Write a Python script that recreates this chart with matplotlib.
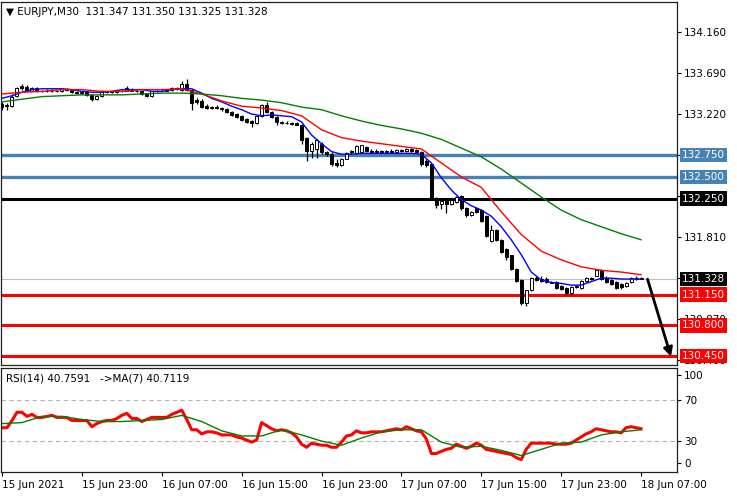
import numpy as np
import matplotlib
matplotlib.use("Agg")
import matplotlib.pyplot as plt
from matplotlib import transforms

# EURJPY M30 candles, 15 Jun 15:00 .. 18 Jun 07:00
opens = [133.33, 133.32, 133.31, 133.43, 133.54, 133.53, 133.49, 133.52, 133.48, 133.49,
         133.48, 133.49, 133.48, 133.51, 133.50, 133.47, 133.46, 133.47, 133.44, 133.39,
         133.43, 133.47, 133.48, 133.47, 133.48, 133.49, 133.51, 133.49, 133.48, 133.45,
         133.43, 133.48, 133.49, 133.49, 133.50, 133.52, 133.50, 133.57, 133.50, 133.38,
         133.37, 133.31, 133.30, 133.30, 133.29, 133.28, 133.24, 133.22, 133.20, 133.16,
         133.14, 133.12, 133.20, 133.32, 133.24, 133.19, 133.13, 133.12, 133.12, 133.12,
         133.10, 132.95, 132.80, 132.82, 132.88, 132.78, 132.76, 132.66, 132.64, 132.71,
         132.80, 132.77, 132.78, 132.84, 132.80, 132.79, 132.80, 132.78, 132.80, 132.79,
         132.81, 132.80, 132.82, 132.81, 132.79, 132.68, 132.65, 132.26, 132.19, 132.23,
         132.19, 132.21, 132.28, 132.14, 132.06, 132.14, 132.12, 132.05, 131.76, 131.89,
         131.78, 131.67, 131.60, 131.45, 131.32, 131.05, 131.20, 131.34, 131.33, 131.33,
         131.30, 131.30, 131.25, 131.23, 131.17, 131.24, 131.23, 131.31, 131.34, 131.37,
         131.43, 131.34, 131.32, 131.30, 131.27, 131.25, 131.30, 131.33, 131.347]
highs = [133.36, 133.35, 133.45, 133.53, 133.57, 133.55, 133.53, 133.53, 133.50, 133.51,
         133.51, 133.50, 133.52, 133.52, 133.51, 133.49, 133.48, 133.48, 133.45, 133.44,
         133.50, 133.49, 133.49, 133.49, 133.50, 133.54, 133.52, 133.50, 133.49, 133.46,
         133.49, 133.50, 133.51, 133.51, 133.53, 133.53, 133.60, 133.62, 133.51, 133.40,
         133.39, 133.33, 133.31, 133.32, 133.30, 133.29, 133.25, 133.23, 133.21, 133.17,
         133.15, 133.21, 133.34, 133.36, 133.25, 133.20, 133.14, 133.14, 133.13, 133.13,
         133.11, 132.96, 132.90, 132.93, 132.90, 132.80, 132.78, 132.70, 132.72, 132.78,
         132.81, 132.86, 132.87, 132.85, 132.82, 132.82, 132.81, 132.81, 132.82, 132.82,
         132.82, 132.83, 132.83, 132.82, 132.80, 132.70, 132.66, 132.27, 132.23, 132.24,
         132.25, 132.28, 132.29, 132.15, 132.11, 132.15, 132.13, 132.06, 131.95, 131.90,
         131.79, 131.68, 131.61, 131.46, 131.33, 131.21, 131.35, 131.36, 131.36, 131.35,
         131.31, 131.31, 131.26, 131.24, 131.25, 131.26, 131.32, 131.35, 131.35, 131.44,
         131.44, 131.36, 131.33, 131.31, 131.28, 131.30, 131.35, 131.37, 131.350]
lows = [133.27, 133.27, 133.30, 133.42, 133.50, 133.48, 133.48, 133.47, 133.47, 133.47,
        133.47, 133.47, 133.47, 133.49, 133.46, 133.45, 133.45, 133.43, 133.37, 133.38,
        133.42, 133.46, 133.46, 133.46, 133.47, 133.48, 133.48, 133.47, 133.44, 133.42,
        133.42, 133.47, 133.48, 133.48, 133.49, 133.50, 133.49, 133.49, 133.27, 133.34,
        133.29, 133.28, 133.28, 133.28, 133.26, 133.23, 133.20, 133.18, 133.14, 133.12,
        133.07, 133.11, 133.19, 133.23, 133.18, 133.10, 133.11, 133.11, 133.10, 133.09,
        132.88, 132.68, 132.72, 132.72, 132.76, 132.74, 132.62, 132.61, 132.63, 132.70,
        132.76, 132.76, 132.77, 132.79, 132.78, 132.77, 132.77, 132.77, 132.78, 132.78,
        132.79, 132.79, 132.79, 132.77, 132.63, 132.61, 132.25, 132.14, 132.13, 132.09,
        132.18, 132.20, 132.12, 132.04, 132.05, 132.09, 131.98, 131.81, 131.75, 131.77,
        131.63, 131.55, 131.43, 131.30, 131.03, 131.02, 131.19, 131.31, 131.30, 131.29,
        131.28, 131.22, 131.21, 131.15, 131.15, 131.23, 131.22, 131.30, 131.32, 131.36,
        131.32, 131.29, 131.26, 131.22, 131.22, 131.24, 131.29, 131.32, 131.325]
closes = [133.30, 133.31, 133.41, 133.52, 133.52, 133.49, 133.52, 133.48, 133.49, 133.48,
          133.49, 133.48, 133.51, 133.50, 133.47, 133.46, 133.47, 133.44, 133.39, 133.43,
          133.47, 133.48, 133.47, 133.48, 133.49, 133.52, 133.49, 133.48, 133.45, 133.43,
          133.48, 133.49, 133.49, 133.50, 133.52, 133.51, 133.57, 133.50, 133.35, 133.36,
          133.30, 133.29, 133.29, 133.29, 133.28, 133.24, 133.21, 133.19, 133.15, 133.13,
          133.12, 133.20, 133.32, 133.24, 133.19, 133.13, 133.12, 133.12, 133.11, 133.10,
          132.92, 132.80, 132.88, 132.92, 132.78, 132.76, 132.65, 132.64, 132.71, 132.77,
          132.78, 132.85, 132.86, 132.80, 132.79, 132.80, 132.78, 132.80, 132.79, 132.81,
          132.80, 132.82, 132.80, 132.78, 132.65, 132.64, 132.26, 132.18, 132.22, 132.19,
          132.24, 132.27, 132.14, 132.06, 132.10, 132.10, 132.00, 131.82, 131.89, 131.78,
          131.64, 131.58, 131.44, 131.31, 131.05, 131.20, 131.34, 131.32, 131.31, 131.30,
          131.29, 131.23, 131.22, 131.17, 131.24, 131.25, 131.31, 131.34, 131.33, 131.43,
          131.33, 131.30, 131.27, 131.23, 131.24, 131.29, 131.34, 131.34, 131.328]

# moving averages (blue every 2 bars, red/green every 4 bars)
ma_blue = [133.40, 133.43, 133.47, 133.50, 133.51, 133.51, 133.51, 133.50, 133.48, 133.47,
           133.47, 133.48, 133.50, 133.50, 133.50, 133.48, 133.48, 133.50, 133.51, 133.51,
           133.46, 133.40, 133.36, 133.31, 133.27, 133.22, 133.20, 133.21, 133.20, 133.19,
           133.13, 132.98, 132.88, 132.79, 132.76, 132.76, 132.77, 132.77, 132.77, 132.77,
           132.77, 132.77, 132.76, 132.66, 132.49, 132.35, 132.24, 132.17, 132.12, 132.05,
           131.93, 131.78, 131.61, 131.41, 131.32, 131.29, 131.28, 131.26, 131.26, 131.30,
           131.34, 131.34, 131.33, 131.33, 131.33]
ma_red = [133.45, 133.47, 133.48, 133.50, 133.50, 133.48, 133.48, 133.50, 133.50, 133.51,
          133.45, 133.37, 133.31, 133.29, 133.26, 133.20, 133.04, 132.95, 132.91, 132.88,
          132.85, 132.82, 132.66, 132.50, 132.38, 132.10, 131.84, 131.65, 131.55, 131.47,
          131.43, 131.41, 131.38]
ma_green = [133.36, 133.39, 133.42, 133.43, 133.44, 133.44, 133.44, 133.45, 133.46, 133.46,
            133.45, 133.43, 133.40, 133.38, 133.35, 133.30, 133.27, 133.20, 133.14, 133.09,
            133.05, 133.00, 132.93, 132.83, 132.73, 132.59, 132.43, 132.27, 132.12, 132.01,
            131.93, 131.85, 131.78]

rsi = [43, 43, 50, 58, 58, 54, 56, 53, 53, 54, 55, 53, 53, 53, 50, 50, 50, 50, 44, 47,
       49, 50, 50, 52, 55, 57, 52, 52, 49, 51, 53, 53, 53, 53, 56, 58, 60, 51, 41, 41,
       37, 39, 39, 38, 36, 36, 36, 34, 33, 31, 29, 31, 48, 45, 42, 40, 41, 40, 38, 34,
       27, 24, 28, 27, 26, 26, 24, 24, 29, 35, 36, 40, 38, 38, 39, 39, 39, 40, 41, 42,
       41, 44, 42, 40, 39, 32, 18, 18, 20, 22, 23, 27, 25, 23, 25, 28, 26, 22, 21, 20,
       19, 18, 17, 14, 12, 22, 28, 28, 28, 28, 28, 27, 27, 27, 28, 31, 34, 37, 39, 42,
       41, 40, 39, 39, 38, 43, 44, 43, 42]
rsi_ma = [47, 48, 54, 54, 51, 49, 49, 50, 51, 55, 49, 40, 35, 35, 41, 36, 30, 26, 33, 39,
          41, 41, 29, 24, 25, 21, 16, 22, 28, 29, 36, 39, 41]

levels_blue = [132.750, 132.500]
levels_black = [132.250]
levels_red = [131.150, 130.800, 130.450]
last_price = 131.328

price_ticks = [134.160, 133.690, 133.220, 132.750, 132.280, 131.810, 131.340, 130.870, 130.400]
# labels fully covered by the level boxes are left blank
price_labels = ['134.160', '133.690', '133.220', '', '', '131.810', '', '130.870', '130.400']
time_labels = ['15 Jun 2021', '15 Jun 23:00', '16 Jun 07:00', '16 Jun 15:00', '16 Jun 23:00',
               '17 Jun 07:00', '17 Jun 15:00', '17 Jun 23:00', '18 Jun 07:00']

plt.rcParams['font.family'] = ['DejaVu Sans']
FS = 7.5
W, H = 737, 498

fig = plt.figure(figsize=(W / 100, H / 100), dpi=100)
ax = fig.add_axes([1 / W, (H - 365) / H, 676 / W, 363 / H])
ax2 = fig.add_axes([1 / W, (H - 472) / H, 676 / W, 104 / H])

idx = np.arange(len(closes))
o = np.array(opens)
c = np.array(closes)

# horizontal levels
for lv in levels_blue:
    ax.axhline(lv, color='#4682B4', lw=2.4, zorder=2)
for lv in levels_black:
    ax.axhline(lv, color='black', lw=2.2, zorder=2)
for lv in levels_red:
    ax.axhline(lv, color='#FF0000', lw=2.2, zorder=2)
ax.axhline(last_price, color='#C0C0C0', lw=0.8, zorder=1)

# candles
ax.vlines(idx, lows, highs, color='black', lw=0.9, zorder=3)
up = c >= o
ax.bar(idx, np.abs(c - o), bottom=np.minimum(o, c), width=0.6,
       color=np.where(up, 'white', 'black'), edgecolor='black', linewidth=0.7, zorder=3)

ax.plot(idx[::2], ma_blue, color='#0000FF', lw=1.0, zorder=4)
ax.plot(idx[::4], ma_red, color='#FF0000', lw=1.0, zorder=4)
ax.plot(idx[::4], ma_green, color='#008000', lw=1.0, zorder=4)

ax.annotate('', xy=(134.0, 130.44), xytext=(129.3, last_price), annotation_clip=False,
            arrowprops=dict(arrowstyle='-|>', color='black', lw=2.0, mutation_scale=13,
                            shrinkA=0, shrinkB=0), zorder=5)

ax.set_xlim(-0.2, 135.2)
ax.set_ylim(130.345, 134.504)
ax.set_xticks([])
ax.yaxis.tick_right()
ax.set_yticks(price_ticks)
ax.set_yticklabels(price_labels, fontsize=FS)
ax.tick_params(axis='y', direction='out', length=3, pad=2, width=0.8)

tr = transforms.blended_transform_factory(ax.transAxes, ax.transData)
boxes = [(lv, '#4682B4') for lv in levels_blue] + \
        [(lv, 'black') for lv in levels_black] + \
        [(last_price, 'black')] + \
        [(lv, '#FF0000') for lv in levels_red]
for lv, fc in boxes:
    ax.text(1.0075, lv, '%.3f' % lv, transform=tr, ha='left', va='center', fontsize=FS,
            color='white', zorder=10,
            bbox=dict(boxstyle='square,pad=0.22', fc=fc, ec='none'))

ax.text(0.007, 0.985, '\u25BC EURJPY,M30  131.347 131.350 131.325 131.328',
        transform=ax.transAxes, ha='left', va='top', fontsize=FS)

# RSI panel
ax2.axhline(70, color='#B4B4B4', lw=0.8, ls=(0, (4, 3)))
ax2.axhline(30, color='#B4B4B4', lw=0.8, ls=(0, (4, 3)))
ax2.plot(idx, rsi, color='#FF0000', lw=2.2)
ax2.plot(idx[::4], rsi_ma, color='#008000', lw=1.0)
ax2.set_xlim(-0.2, 135.2)
ax2.set_ylim(0, 101)
ax2.yaxis.tick_right()
ax2.set_yticks([94, 70, 30, 9])
ax2.set_yticklabels(['100', '70', '30', '0'], fontsize=FS)
ax2.tick_params(axis='y', direction='out', length=3, pad=2, width=0.8)
ax2.set_xticks(np.arange(len(time_labels)) * 16)
ax2.set_xticklabels(time_labels, fontsize=FS, ha='left')
ax2.tick_params(axis='x', direction='out', length=3, pad=3, width=0.8)
ax2.text(0.007, 0.95, 'RSI(14) 40.7591   ->MA(7) 40.7119', transform=ax2.transAxes,
         ha='left', va='top', fontsize=FS)

for a in (ax, ax2):
    for s in a.spines.values():
        s.set_linewidth(0.9)
        s.set_color('#202020')

fig.savefig('out.png', dpi=100, facecolor='white')
